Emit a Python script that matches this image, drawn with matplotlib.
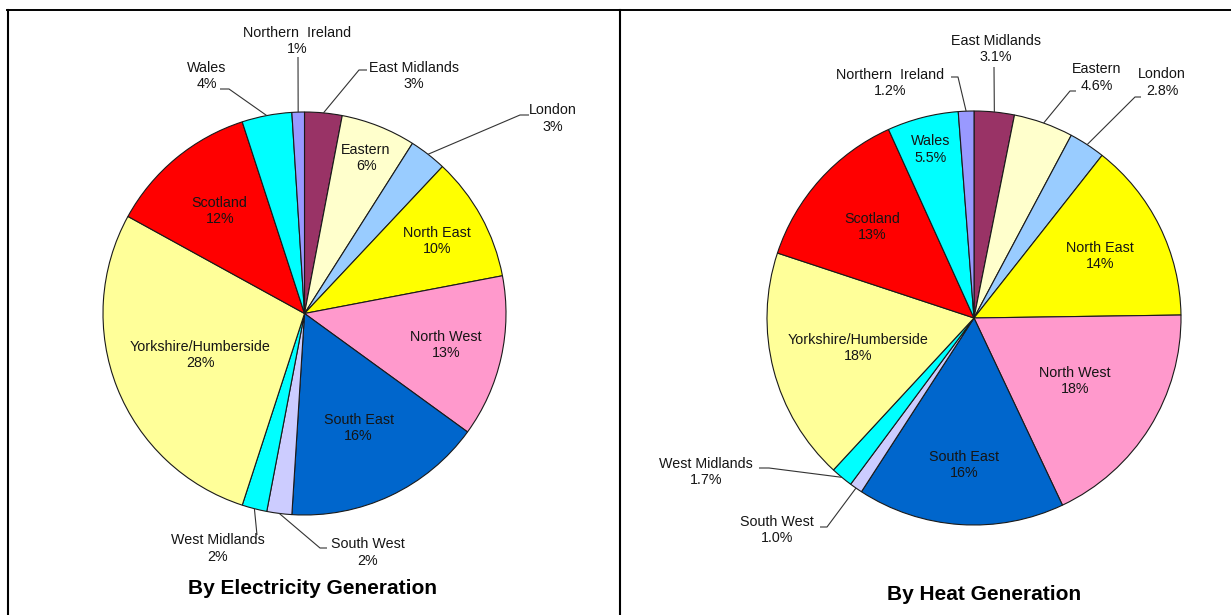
import numpy as np
import matplotlib
matplotlib.use("Agg")
import matplotlib.pyplot as plt

# ---- data -----------------------------------------------------------------
regions = ["East Midlands", "Eastern", "London", "North East", "North West",
           "South East", "South West", "West Midlands", "Yorkshire/Humberside",
           "Scotland", "Wales", "Northern  Ireland"]
electricity_pct = [3, 6, 3, 10, 13, 16, 2, 2, 28, 12, 4, 1]
heat_pct = [3.1, 4.6, 2.8, 14, 18, 16, 1.0, 1.7, 18, 13, 5.5, 1.2]
region_colors = ["#993366", "#FFFFCC", "#99CCFF", "#FFFF00", "#FF99CC",
                 "#0066CC", "#CCCCFF", "#00FFFF", "#FFFF99", "#FF0000",
                 "#00FFFF", "#9999FF"]
chart_titles = ["By Electricity Generation", "By Heat Generation"]

# ---- layout (pixel space, y measured from the top) -------------------------
W, H = 1231, 615
FONT = ["Liberation Sans", "DejaVu Sans"]
LABEL_SIZE = 10.3
TITLE_SIZE = 15


def fmt_elec(v):
    return f"{v:.0f}%"


def fmt_heat(v):
    return f"{v:.0f}%" if v >= 10 else f"{v:.1f}%"


panels = [
    dict(values=electricity_pct, fmt=fmt_elec, center=(304.5, 313.5), radius=201.5,
         title=chart_titles[0], title_pos=(312, 589),
         inside={"Eastern": 0.83, "North East": 0.75, "North West": 0.72,
                 "South East": 0.63, "Yorkshire/Humberside": 0.555,
                 "Scotland": 0.66},
         outside={
             "Northern  Ireland": ((297, 41), [(298, 57)]),
             "Wales": ((207, 76), [(229, 89), (220, 89)]),
             "East Midlands": ((414, 76), [(359, 70), (367, 70)]),
             "London": ((553, 118.5), [(520, 115), (529, 115)]),
             "West Midlands": ((218, 548.5), [(257, 535)]),
             "South West": ((368, 552.5), [(320, 548), (327, 548)]),
         }),
    dict(values=heat_pct, fmt=fmt_heat, center=(974, 318), radius=207,
         title=chart_titles[1], title_pos=(984, 595),
         inside={"Wales": 0.84, "Scotland": 0.66, "North East": 0.68,
                 "Yorkshire/Humberside": 0.58, "North West": 0.575,
                 "South East": 0.71},
         outside={
             "East Midlands": ((996, 49), [(994, 67)]),
             "Northern  Ireland": ((890, 83), [(958, 77), (951, 77)]),
             "Eastern": ((1097, 77.5), [(1070, 91), (1076, 91)]),
             "London": ((1162, 82.5), [(1135, 97), (1141, 97)]),
             "West Midlands": ((706, 472), [(769, 468), (759, 468)]),
             "South West": ((777, 530), [(827, 527), (820, 527)]),
         }),
]


def px(x, y):
    return x, H - y


fig = plt.figure(figsize=(W / 100, H / 100), dpi=100)
fig.patch.set_facecolor("white")
ax = fig.add_axes([0, 0, 1, 1])

for p in panels:
    cx, cy = px(*p["center"])
    r = p["radius"]
    wedges, _ = ax.pie(p["values"], colors=region_colors, startangle=90,
                       counterclock=False, center=(cx, cy), radius=r,
                       frame=False,
                       wedgeprops=dict(edgecolor="#1a1a1a", linewidth=0.8))

    for name, val, w in zip(regions, p["values"], wedges):
        mid = np.deg2rad((w.theta1 + w.theta2) / 2)
        text = f"{name}\n{p['fmt'](val)}"
        if name in p["inside"]:
            f = p["inside"][name]
            ax.text(cx + f * r * np.cos(mid), cy + f * r * np.sin(mid), text,
                    ha="center", va="center", fontsize=LABEL_SIZE, family=FONT,
                    color="#151515", linespacing=1.2)
        elif name in p["outside"]:
            (tx, ty), path = p["outside"][name]
            xs = [cx + r * np.cos(mid)] + [px(*q)[0] for q in path]
            ys = [cy + r * np.sin(mid)] + [px(*q)[1] for q in path]
            ax.plot(xs, ys, color="#333333", lw=0.8, solid_capstyle="butt")
            ax.text(*px(tx, ty), text, ha="center", va="center",
                    fontsize=LABEL_SIZE, family=FONT, color="#151515",
                    linespacing=1.2)

    ax.text(*px(*p["title_pos"]), p["title"], ha="center", va="center",
            fontsize=TITLE_SIZE, fontweight="bold", family=FONT, color="black")

# panel frames
ax.plot(*zip(px(7, 10), px(W, 10)), color="black", lw=1.4)
ax.plot(*zip(px(8, 10), px(8, H)), color="black", lw=1.5)
ax.plot(*zip(px(619.5, 10), px(619.5, H)), color="black", lw=1.5)

ax.set_xlim(0, W)
ax.set_ylim(0, H)
ax.set_aspect("auto")
ax.axis("off")

fig.savefig("out.png", dpi=100, facecolor="white")
